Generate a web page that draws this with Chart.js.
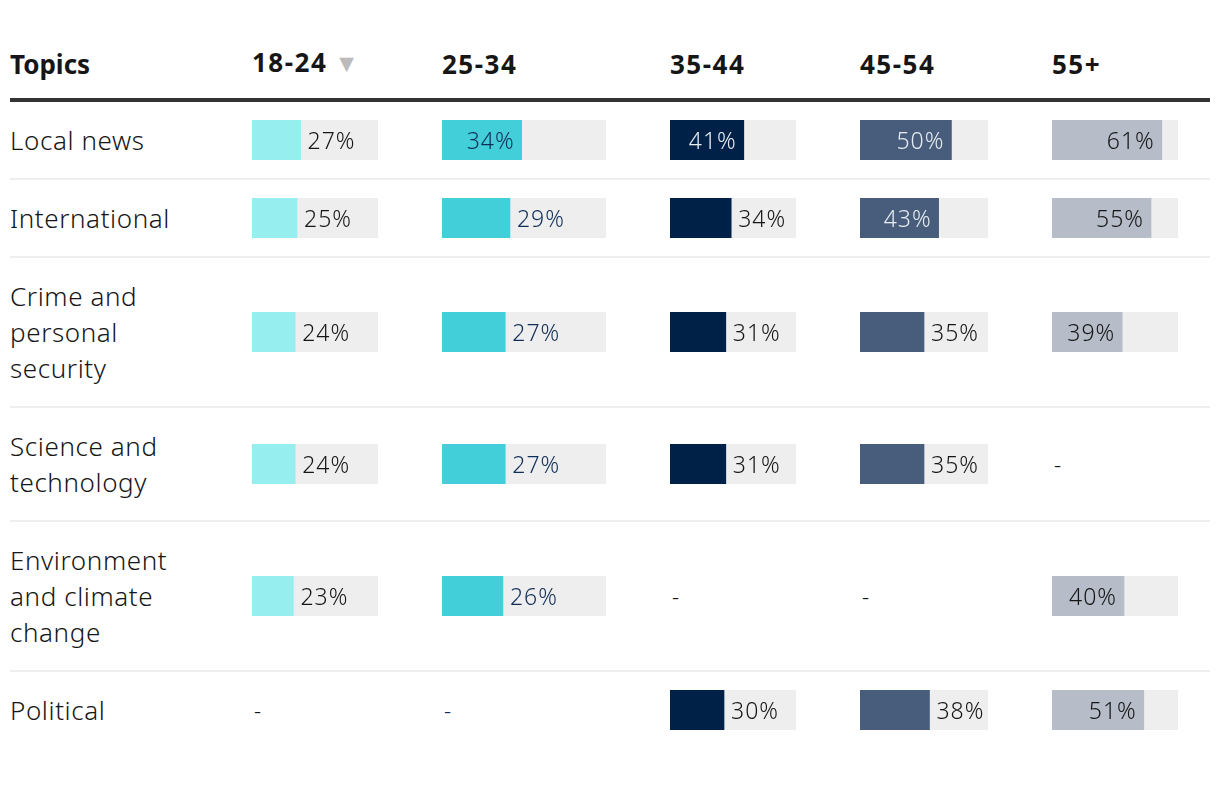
<!DOCTYPE html>
<html>
<head>
<meta charset="utf-8">
<script src="https://cdn.jsdelivr.net/npm/chart.js@4.4.1/dist/chart.umd.min.js"></script>
<style>
  body { margin: 0; background: #fff; font-family: "Noto Sans", sans-serif; color: #161616; }
  table { position: absolute; left: 10px; top: 37px; width: 1200px; border-collapse: collapse; table-layout: fixed; }
  th { font-weight: 700; font-size: 26px; text-align: left; line-height: 36px; padding: 7px 0 15px; border-bottom: 4px solid #333; white-space: nowrap; }
  th.age { letter-spacing: 1.5px; }
  th .sort { font-family: "DejaVu Sans", sans-serif; color: #bbb; font-size: 19px; margin-left: 12px; position: relative; top: -2px; letter-spacing: 0; }
  td { border-bottom: 2px solid #eee; vertical-align: middle; padding: 18px 0 18px; }
  tr:last-child td { border-bottom: none; }
  td.topic { font-size: 26px; font-weight: 300; letter-spacing: 0.6px; line-height: 36px; padding: 20px 56px 20px 0; }
  .cell { position: relative; height: 40px; }
  .dash { font-size: 22px; font-weight: 300; line-height: 40px; padding-left: 2px; }
</style>
</head>
<body>
<table id="tbl">
  <colgroup>
    <col style="width:242px"><col style="width:190px"><col style="width:228px">
    <col style="width:190px"><col style="width:192px"><col style="width:158px">
  </colgroup>
  <thead><tr id="head"></tr></thead>
  <tbody id="body"></tbody>
</table>
<script>
const topics = ['Local news', 'International', 'Crime and personal security', 'Science and technology', 'Environment and climate change', 'Political'];
const ageGroups = ['18-24', '25-34', '35-44', '45-54', '55+'];
const age18to24 = [27, 25, 24, 24, 23, null];
const age25to34 = [34, 29, 27, 27, 26, null];
const age35to44 = [41, 34, 31, 31, null, 30];
const age45to54 = [50, 43, 35, 35, null, 38];
const age55plus = [61, 55, 39, null, 40, 51];
const scaleMax = 70;

const series = [age18to24, age25to34, age35to44, age45to54, age55plus];
const barColors = ['#97eeef', '#42cfda', '#002147', '#475d7b', '#b6bcc8'];
const insideText = ['#161616', '#112e57', '#e6ebf2', '#e6ebf2', '#161616'];
const outsideText = ['#161616', '#112e57', '#161616', '#161616', '#161616'];
const trackWidths = [126, 164, 126, 128, 126];
const trackColor = '#eeeeee';
const insideMinWidth = 70; // label goes inside the bar only from this width on

// header
const head = document.getElementById('head');
head.innerHTML = '<th>Topics</th>' + ageGroups.map((g, i) =>
  '<th class="age">' + g + (i === 0 ? '<span class="sort">\u25BC</span>' : '') + '</th>').join('');

// value label drawn inside the bar if it fits, otherwise just after it
const labelPlugin = {
  id: 'valueLabel',
  afterDatasetsDraw(chart) {
    const ctx = chart.ctx;
    const bar = chart.getDatasetMeta(0).data[0];
    const col = chart.options.colIndex;
    const text = chart.data.datasets[0].data[0] + '%';
    ctx.save();
    ctx.font = '300 23px "Noto Sans"';
    ctx.letterSpacing = '1px';
    ctx.textBaseline = 'middle';
    if (bar.x - bar.base >= insideMinWidth) {
      ctx.textAlign = 'right';
      ctx.fillStyle = insideText[col];
      ctx.fillText(text, bar.x - 7, bar.y + 2);
    } else {
      ctx.textAlign = 'left';
      ctx.fillStyle = outsideText[col];
      ctx.fillText(text, bar.x + 7, bar.y + 2);
    }
    ctx.restore();
  }
};

function makeBar(canvas, value, col) {
  new Chart(canvas, {
    type: 'bar',
    data: {
      labels: [''],
      datasets: [
        { data: [value], backgroundColor: barColors[col], barPercentage: 1, categoryPercentage: 1, grouped: false },
        { data: [scaleMax], backgroundColor: trackColor, barPercentage: 1, categoryPercentage: 1, grouped: false }
      ]
    },
    options: {
      colIndex: col,
      indexAxis: 'y',
      responsive: false,
      animation: false,
      events: [],
      layout: { padding: 0 },
      scales: {
        x: { display: false, min: 0, max: scaleMax },
        y: { display: false }
      },
      plugins: { legend: { display: false }, tooltip: { enabled: false } }
    },
    plugins: [labelPlugin]
  });
}

const body = document.getElementById('body');
topics.forEach((topic, r) => {
  const tr = document.createElement('tr');
  const th = document.createElement('td');
  th.className = 'topic';
  th.textContent = topic;
  tr.appendChild(th);
  series.forEach((vals, c) => {
    const td = document.createElement('td');
    const v = vals[r];
    if (v == null) {
      td.innerHTML = '<div class="cell"><span class="dash" style="color:' + outsideText[c] + '">-</span></div>';
      tr.appendChild(td);
    } else {
      const div = document.createElement('div');
      div.className = 'cell';
      const canvas = document.createElement('canvas');
      canvas.width = trackWidths[c];
      canvas.height = 40;
      canvas.style.width = trackWidths[c] + 'px';
      canvas.style.height = '40px';
      div.appendChild(canvas);
      td.appendChild(div);
      tr.appendChild(td);
      makeBar(canvas, v, c);
    }
  });
  body.appendChild(tr);
});
</script>
</body>
</html>
